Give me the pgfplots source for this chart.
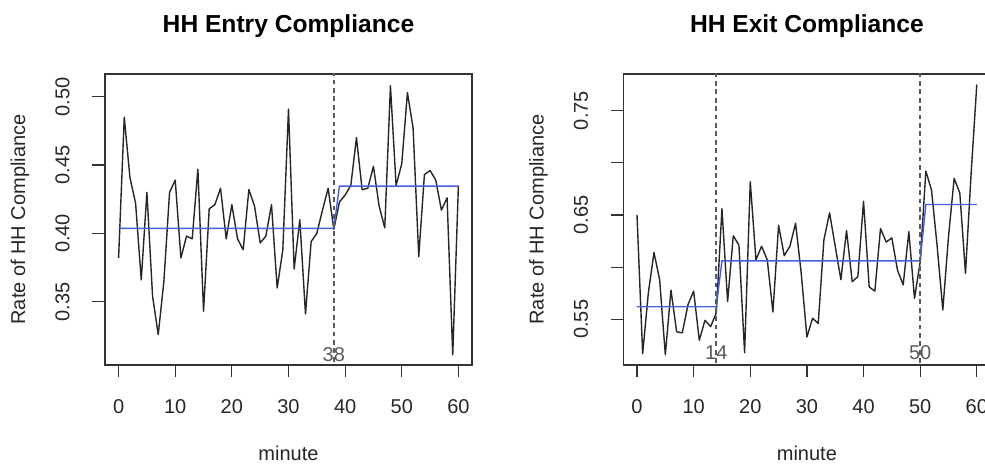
\documentclass[border=0pt]{standalone}
\usepackage{fontspec}
\setmainfont{Liberation Sans}
\usepackage{pgfplots}
\pgfplotsset{compat=1.18}

\definecolor{fitblue}{RGB}{70,95,225}
\definecolor{cutgray}{RGB}{90,90,90}

\pgfplotstableread{
x y
0 0.382
1 0.485
2 0.441
3 0.422
4 0.366
5 0.430
6 0.354
7 0.326
8 0.365
9 0.430
10 0.439
11 0.382
12 0.398
13 0.396
14 0.447
15 0.343
16 0.418
17 0.421
18 0.433
19 0.396
20 0.421
21 0.396
22 0.388
23 0.432
24 0.420
25 0.393
26 0.398
27 0.421
28 0.360
29 0.388
30 0.491
31 0.374
32 0.410
33 0.341
34 0.394
35 0.400
36 0.417
37 0.433
38 0.403
39 0.423
40 0.428
41 0.435
42 0.470
43 0.432
44 0.433
45 0.449
46 0.420
47 0.404
48 0.508
49 0.435
50 0.451
51 0.503
52 0.477
53 0.383
54 0.443
55 0.446
56 0.439
57 0.417
58 0.426
59 0.311
60 0.435
}\entrydata

\pgfplotstableread{
x y
0 0.650
1 0.517
2 0.575
3 0.614
4 0.588
5 0.516
6 0.578
7 0.538
8 0.537
9 0.564
10 0.577
11 0.530
12 0.549
13 0.543
14 0.556
15 0.656
16 0.567
17 0.630
18 0.621
19 0.518
20 0.682
21 0.607
22 0.620
23 0.607
24 0.557
25 0.640
26 0.611
27 0.620
28 0.642
29 0.594
30 0.533
31 0.551
32 0.546
33 0.626
34 0.652
35 0.620
36 0.588
37 0.635
38 0.586
39 0.591
40 0.663
41 0.581
42 0.577
43 0.637
44 0.624
45 0.628
46 0.597
47 0.583
48 0.634
49 0.570
50 0.605
51 0.692
52 0.674
53 0.620
54 0.559
55 0.629
56 0.685
57 0.671
58 0.594
59 0.690
60 0.775
}\exitdata

\tikzset{cutlabel/.style={font=\fontsize{10}{12}\selectfont, text=cutgray}}

\pgfplotsset{
  rpanel/.style={
    scale only axis, width=183.5pt, height=145.5pt,
    anchor=south west,
    xmin=-2.4, xmax=62.4,
    xtick={0,10,...,60},
    xticklabels={0,10,20,30,40,50,60},
    tick align=outside, xtick pos=bottom, ytick pos=left,
    major tick length=6.25pt,
    tick style={black!80, line width=0.6pt},
    axis line style={black!80, line width=0.6pt},
    every tick label/.append style={font=\fontsize{10}{12}\selectfont, text=black!85},
    xticklabel style={anchor=center, yshift=-14.5pt},
    yticklabel style={anchor=center, xshift=-15pt, rotate=90},
    title style={font=\bfseries\fontsize{12.3}{14}\selectfont, at={(axis description cs:0.5,1.103)}, anchor=base},
    xlabel style={font=\fontsize{10}{12}\selectfont, text=black!85, at={(axis description cs:0.5,-0.3285)}, anchor=base},
    ylabel style={font=\fontsize{10}{12}\selectfont, text=black!85, at={(axis description cs:-0.2316,0.5)}, anchor=center},
    xlabel={minute},
    ylabel={Rate of HH Compliance},
  },
  dataline/.style={black!85, line width=0.7pt, line join=round},
  fitline/.style={fitblue, line width=0.7pt},
  cutline/.style={cutgray, line width=0.8pt, dash pattern=on 2.4pt off 1.8pt},
}

\begin{document}
\begin{tikzpicture}
\begin{axis}[rpanel, at={(52.5pt,49.5pt)},
  title={HH Entry Compliance},
  ymin=0.3037, ymax=0.5166,
  ytick={0.35,0.40,0.45,0.50},
  yticklabels={0.35,0.40,0.45,0.50},
]
\addplot[dataline] table[x=x,y=y] {\entrydata};
% fitted level, break after minute 38
\addplot[fitline] coordinates {(0,0.4037) (38,0.4037) (39,0.4346) (60,0.4346)};
\addplot[cutline] coordinates {(38,0.30) (38,0.52)};
\node[cutlabel] at (axis cs:38,0.311) {38};
\end{axis}

\begin{axis}[rpanel, at={(311.7pt,49.5pt)},
  title={HH Exit Compliance},
  ymin=0.5062, ymax=0.7851,
  ytick={0.55,0.60,0.65,0.70,0.75},
  yticklabels={0.55,,0.65,,0.75},
]
\addplot[dataline] table[x=x,y=y] {\exitdata};
% fitted levels, breaks after minutes 14 and 50
\addplot[fitline] coordinates {(0,0.562) (14,0.562) (15,0.606) (50,0.606) (51,0.660) (60,0.660)};
\addplot[cutline] coordinates {(14,0.50) (14,0.79)};
\addplot[cutline] coordinates {(50,0.50) (50,0.79)};
\node[cutlabel] at (axis cs:14,0.518) {14};
\node[cutlabel] at (axis cs:50,0.518) {50};
\end{axis}
\pgfresetboundingbox
\path (0,0) rectangle (492.5pt,232pt);
\end{tikzpicture}
\end{document}
